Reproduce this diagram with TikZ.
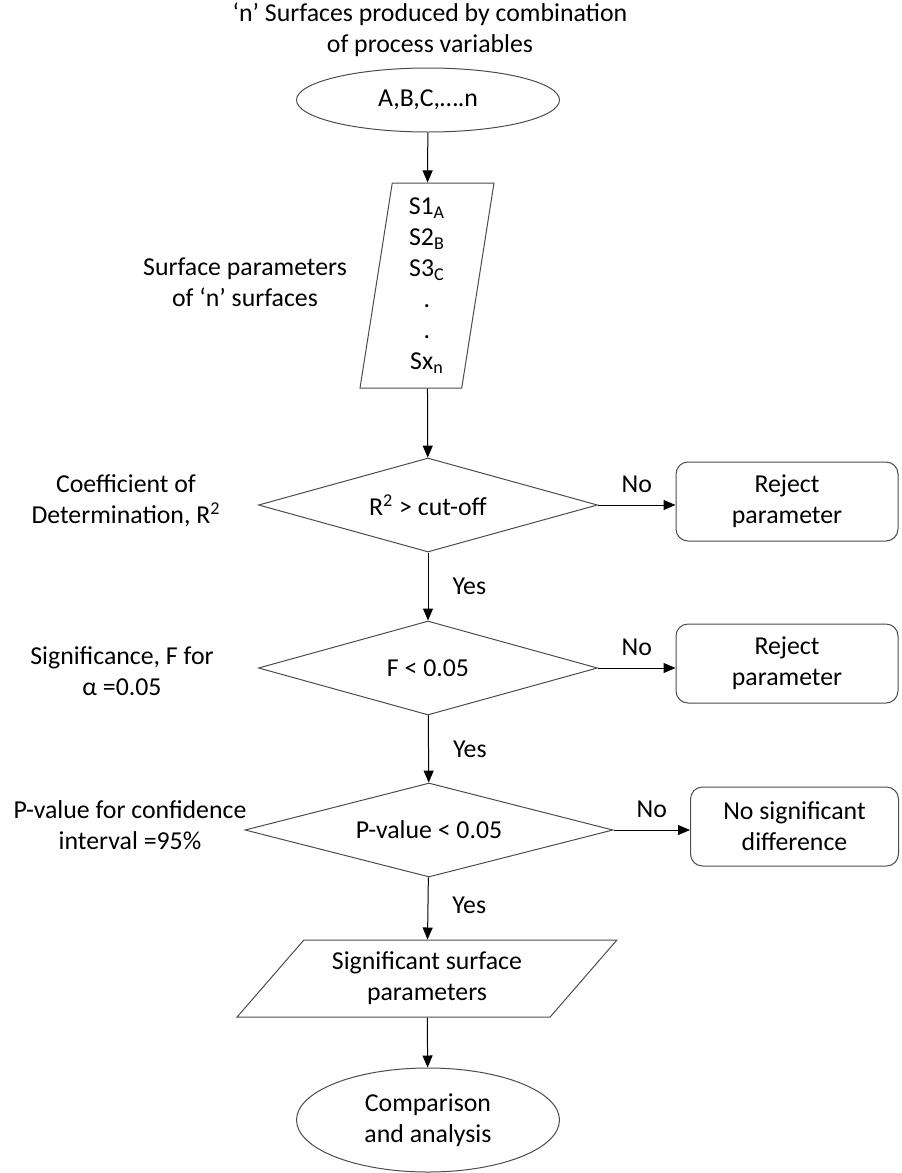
\documentclass[tikz,border=0pt]{standalone}
\usepackage{fontspec}
\setmainfont{Carlito}
\usepackage{tikz}
\usetikzlibrary{shapes.geometric,arrows.meta}

\begin{document}
\begin{tikzpicture}[x=0.5pt,y=-0.5pt,
  every node/.style={font=\fontsize{12.9}{15.5}\selectfont,align=center,inner sep=0pt},
  oval/.style={ellipse,draw=black!70,line width=0.5pt,minimum width=131.5pt},
  datablock/.style={trapezium,draw=black!70,line width=0.5pt,trapezium stretches=true},
  decision/.style={diamond,draw=black!70,line width=0.5pt,minimum height=47pt},
  outcome/.style={rectangle,rounded corners=6pt,draw=black!70,line width=0.5pt,minimum height=39.5pt},
  flow/.style={-{Triangle[length=6pt,width=5pt]},line width=0.5pt}]
\useasboundingbox (0,0) rectangle (901,1173);

\node (title) at (430,30) {‘n’ Surfaces produced by combination\\of process variables};
\node [oval,minimum height=32pt] (vars) at (428,100) {A,B,C,….n};
\node [datablock,trapezium left angle=84.5,trapezium right angle=95.5,
  minimum width=67pt,minimum height=102.5pt] (surf) at (427,285.5)
  {S1\textsubscript{A}\\S2\textsubscript{B}\\S3\textsubscript{C}\\.\\.\\Sx\textsubscript{n}};
\node (surflbl) at (245,282.5) {Surface parameters\\of ‘n’ surfaces};

\node [decision,aspect=3.6,minimum width=169.5pt] (rsq) at (428,505) {R\textsuperscript{2} > cut-off};
\node (rsqlbl) at (126,500.5) {Coefficient of\\Determination, R\textsuperscript{2}};
\node [outcome,minimum width=111pt] (reject1) at (787,501.5) {Reject\\parameter};

\node [decision,aspect=3.6,minimum width=169.5pt] (ftest) at (428,668) {F < 0.05};
\node (ftestlbl) at (122,671.5) {Significance, F for\\α =0.05};
\node [outcome,minimum width=111pt] (reject2) at (787,663.5) {Reject\\parameter};

\node [decision,aspect=3.9,minimum width=184pt] (pval) at (429,830) {P-value < 0.05};
\node (pvallbl) at (130,825) {P-value for confidence\\interval =95\%};
\node [outcome,minimum width=104pt] (nodiff) at (794.5,826.5) {No significant\\difference};

\node [datablock,trapezium left angle=45.8,trapezium right angle=134.2,
  minimum width=190pt,minimum height=38.5pt] (signif) at (427,978.5)
  {Significant surface\\parameters};
\node [oval,minimum height=52pt] (compare) at (428,1120) {Comparison\\and analysis};

\draw [flow] (vars) -- (surf);
\draw [flow] (surf) -- (rsq);
\draw [flow] (rsq) -- node [pos=0.5,right=12pt] (yes1) {Yes} (ftest);
\draw [flow] (ftest) -- node [pos=0.5,right=12pt] (yes2) {Yes} (pval);
\draw [flow] (pval) -- node [pos=0.45,right=12pt] (yes3) {Yes} (signif);
\draw [flow] (signif) -- (compare);
\draw [flow] (rsq.east) -- node [above=6pt] (no1) {No} (rsq.east -| reject1.west);
\draw [flow] (ftest.east) -- node [above=6pt] (no2) {No} (ftest.east -| reject2.west);
\draw [flow] (pval.east) -- node [above=6pt] (no3) {No} (pval.east -| nodiff.west);
\end{tikzpicture}
\end{document}
